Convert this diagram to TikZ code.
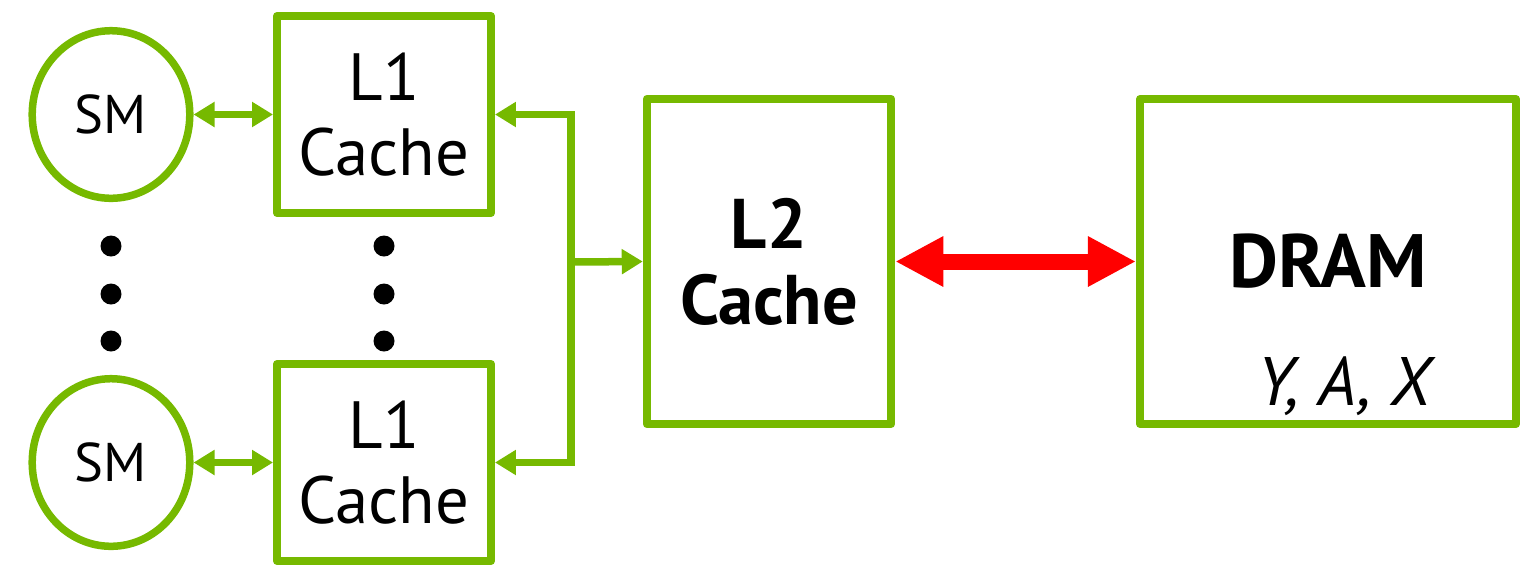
\documentclass[tikz,border=0pt]{standalone}
\usepackage{fontspec}
\setmainfont{PT Sans}
\usepackage{tikz}
\usepackage{xcolor}
\usetikzlibrary{shapes.geometric,arrows.meta}
\definecolor{nvgreen}{RGB}{118,185,0}
\definecolor{linkred}{RGB}{255,0,0}

\begin{document}
\begin{tikzpicture}[x=0.01cm,y=-0.01cm,
  smnode/.style={draw=nvgreen,line width=0.075cm,ellipse,minimum width=1.575cm,minimum height=1.675cm,inner sep=0pt,font=\fontsize{15.5}{18}\selectfont},
  cachebox/.style={draw=nvgreen,line width=0.078cm,line join=round,rectangle,inner sep=0pt,align=center},
  greenlink/.style={draw=nvgreen,line width=0.075cm,arrows={Triangle[length=0.21cm,width=0.24cm]-Triangle[length=0.21cm,width=0.24cm]}},
  greenfeed/.style={draw=nvgreen,line width=0.075cm,arrows={-Triangle[length=0.21cm,width=0.24cm]}},
  redlink/.style={draw=linkred,line width=0.16cm,arrows={Triangle[length=0.48cm,width=0.47cm]-Triangle[length=0.48cm,width=0.47cm]}}]
\useasboundingbox (0,0) rectangle (1525,566);
% SMs and L1 caches
\node[smnode] (sm1) at (111,114.5) {SM};
\node[smnode] (sm2) at (111,462.5) {SM};
\node[cachebox,minimum width=2.14cm,minimum height=1.97cm,font=\fontsize{19}{21.3}\selectfont] (l1a) at (384,114.5) {L1\\Cache};
\node[cachebox,minimum width=2.14cm,minimum height=1.97cm,font=\fontsize{19}{21.3}\selectfont] (l1b) at (384,462.5) {L1\\Cache};
\fill (111,246) circle (10.5);
\fill (111,294) circle (10.5);
\fill (111,341) circle (10.5);
\fill (384,246) circle (10.5);
\fill (384,294) circle (10.5);
\fill (384,341) circle (10.5);
% L2 and DRAM
\node[cachebox,minimum width=2.445cm,minimum height=3.25cm,font=\bfseries\fontsize{20}{21.6}\selectfont] (l2) at (769,261.5) {L2\\Cache};
\node[cachebox,minimum width=3.76cm,minimum height=3.25cm,font=\bfseries\fontsize{21.5}{25}\selectfont] (dram) at (1328,261.5) {DRAM};
\node[font=\itshape\fontsize{19.5}{22}\selectfont,anchor=base] (dramvars) at (1344,405) {Y, A, X};
% links
\coordinate (bus) at (571,262);
\draw[greenlink] (sm1.east) -- (l1a.west);
\draw[greenlink] (sm2.east) -- (l1b.west);
\draw[greenlink] (l1a.east) -- (l1a.east -| bus) -- (l1b.east -| bus) -- (l1b.east);
\draw[greenfeed] (bus) -- (l2.west);
\draw[redlink] (l2.east) -- (dram.west);
\end{tikzpicture}
\end{document}
